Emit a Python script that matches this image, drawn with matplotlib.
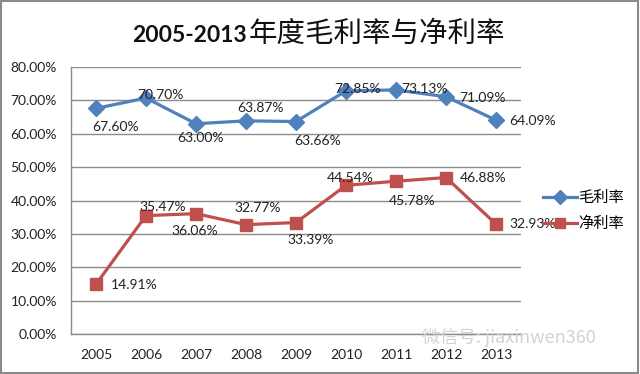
import matplotlib
matplotlib.use('Agg')
import matplotlib.pyplot as plt
from matplotlib.patches import Rectangle
from matplotlib.ticker import FuncFormatter

plt.rcParams['font.family'] = ['Lato', 'Noto Sans CJK SC', 'DejaVu Sans']

# data
years = ['2005', '2006', '2007', '2008', '2009', '2010', '2011', '2012', '2013']
grossMargin = [67.60, 70.70, 63.00, 63.87, 63.66, 72.85, 73.13, 71.09, 64.09]
netMargin = [14.91, 35.47, 36.06, 32.77, 33.39, 44.54, 45.78, 46.88, 32.93]
grossName = '毛利率'
netName = '净利率'

# label offsets in pixels (dx, dy) for each point
grossOffsets = [(20, -19), (14, 3), (5, -14), (14, 13), (22, -19),
                (12, 2), (29, 1), (37, -1), (37, -1)]
netOffsets = [(38, -1), (17, 9), (-1, -17), (12, 17), (15, -17),
              (4, 7), (16, -20), (37, 0), (37, 0)]

blue = '#4F81BD'
red = '#C0504D'
gridGray = '#8C8C8C'

fig = plt.figure(figsize=(6.4, 3.74), dpi=100)
ax = fig.add_axes([71/640, 1-334/374, 450/640, 267/374])

x = list(range(len(years)))
ax.plot(x, grossMargin, color=blue, lw=2.3, marker='D', markersize=8, label=grossName)
ax.plot(x, netMargin, color=red, lw=2.3, marker='s', markersize=9, label=netName)

for xi, v, off in zip(x, grossMargin, grossOffsets):
    ax.annotate('%.2f%%' % v, (xi, v), xytext=off, textcoords='offset pixels',
                ha='center', va='center', fontsize=10, color='#222222')
for xi, v, off in zip(x, netMargin, netOffsets):
    ax.annotate('%.2f%%' % v, (xi, v), xytext=off, textcoords='offset pixels',
                ha='center', va='center', fontsize=10, color='#222222')

ax.set_xlim(-0.5, len(years) - 0.5)
ax.set_ylim(0, 80)
ax.set_yticks(range(0, 81, 10))
ax.yaxis.set_major_formatter(FuncFormatter(lambda v, p: '%.2f%%' % v))
ax.set_xticks(x)
ax.set_xticklabels(years)
ax.tick_params(axis='both', length=0, labelsize=10, colors='#222222')
ax.tick_params(axis='y', pad=10)
ax.tick_params(axis='x', pad=11)
ax.grid(axis='y', color=gridGray, lw=1)
ax.set_axisbelow(True)
for s in ['top', 'right']:
    ax.spines[s].set_visible(False)
for s in ['left', 'bottom']:
    ax.spines[s].set_color(gridGray)
    ax.spines[s].set_linewidth(1)

fig.legend(loc='center left', bbox_to_anchor=(543/640, 1-211/374), frameon=False,
           fontsize=11, handlelength=2.2, handletextpad=0.1, labelspacing=0.75,
           borderpad=0, borderaxespad=0, markerscale=0.85)

# title: bold digits, regular chinese
fig.text(247/640, 1-42/374, '2005-2013', ha='right', va='baseline',
         fontsize=16.5, fontweight='bold', color='#111111')
fig.text(249/640, 1-42/374, '年度毛利率与净利率', ha='left', va='baseline',
         fontsize=20.5, family=['Noto Sans CJK SC', 'DejaVu Sans'], color='#111111')

# watermark
fig.text(422/640, 1-337/374, '微信号: jiaxinwen360', ha='left', va='center',
         fontsize=13, color='#d2d2d2', family=['Noto Sans CJK SC', 'DejaVu Sans'])

fig.patches.append(Rectangle((0.002, 0.003), 0.995, 0.994, transform=fig.transFigure,
                             fill=False, edgecolor='#8a8a8a', lw=1.5))

fig.savefig('out.png', dpi=100)
